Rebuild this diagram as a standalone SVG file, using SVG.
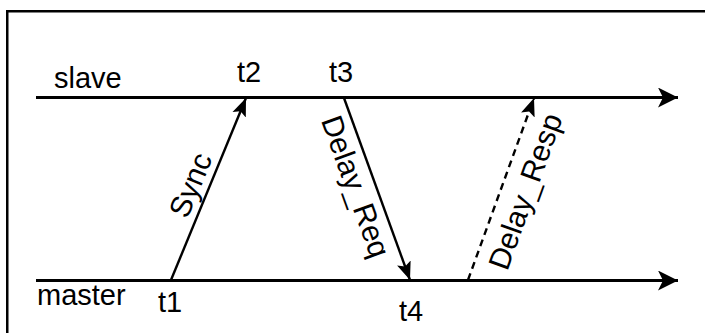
<svg xmlns="http://www.w3.org/2000/svg" width="705" height="333" viewBox="0 0 705 333">
<defs>
<style>
.lbl{font-family:"Liberation Sans",Arial,sans-serif;font-size:29px;fill:#000}
.rot{font-family:"Liberation Sans",Arial,sans-serif;font-size:30px;fill:#000}
.axis{stroke:#000;stroke-width:3;fill:none}
.msg{stroke:#000;stroke-width:2.4;fill:none}
</style>
<marker id="ah" viewBox="0 0 20 20" refX="20" refY="10" markerWidth="20" markerHeight="20" markerUnits="userSpaceOnUse" orient="auto">
<path d="M0,0 L20,10 L0,20 L5,10 Z" fill="#000"/>
</marker>
<marker id="ah2" viewBox="0 0 20 20" refX="20" refY="10" markerWidth="18" markerHeight="18" markerUnits="userSpaceOnUse" orient="auto">
<path d="M0,2 L20,10 L0,18 L4,10 Z" fill="#000"/>
</marker>
</defs>
<rect x="7.25" y="11.25" width="710" height="340" fill="#fff" stroke="#000" stroke-width="2.5"/>
<g id="connectors">
<line id="slave-axis" class="axis" x1="36" y1="97.5" x2="678" y2="97.5" marker-end="url(#ah)"/>
<line id="master-axis" class="axis" x1="36" y1="280.5" x2="678" y2="280.5" marker-end="url(#ah)"/>
<line id="sync" class="msg" x1="171" y1="280" x2="246" y2="98" marker-end="url(#ah2)"/>
<line id="delay-req" class="msg" x1="344" y1="98" x2="410" y2="280" marker-end="url(#ah2)"/>
<line id="delay-resp" class="msg" x1="468" y1="280" x2="534" y2="98" stroke-dasharray="7,5" marker-end="url(#ah2)"/>
</g>
<g id="slave"><text class="lbl" x="54" y="88">slave</text></g>
<g id="master"><text class="lbl" x="37" y="305">master</text></g>
<g id="t1"><text class="lbl" x="158" y="312">t1</text></g>
<g id="t2"><text class="lbl" x="237" y="82">t2</text></g>
<g id="t3"><text class="lbl" x="329" y="82">t3</text></g>
<g id="t4"><text class="lbl" x="399" y="321">t4</text></g>
<g id="sync-label"><text class="rot" text-anchor="middle" transform="translate(200,189) rotate(-67.6)">Sync</text></g>
<g id="delay-req-label"><text class="rot" text-anchor="middle" transform="translate(346,190) rotate(70.1)">Delay_Req</text></g>
<g id="delay-resp-label"><text class="rot" text-anchor="middle" transform="translate(535,195) rotate(-70.1)">Delay_Resp</text></g>
</svg>
